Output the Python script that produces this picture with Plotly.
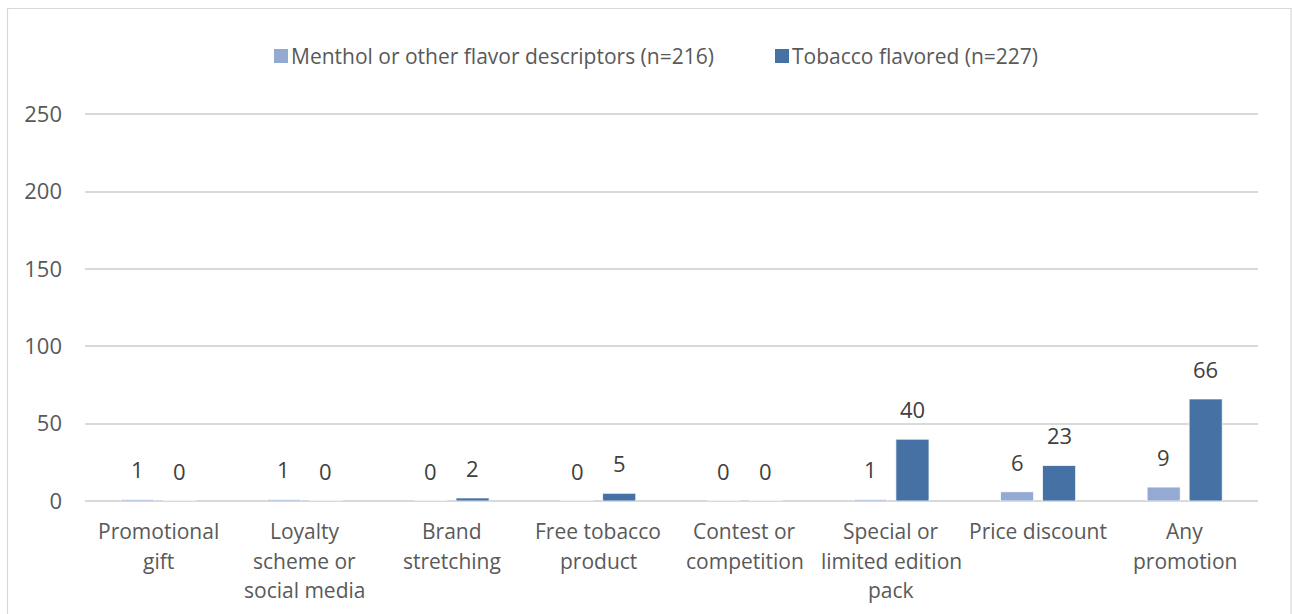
import plotly.graph_objects as go

categories = [
    "Promotional<br>gift",
    "Loyalty<br>scheme or<br>social media",
    "Brand<br>stretching",
    "Free tobacco<br>product",
    "Contest or<br>competition",
    "Special or<br>limited edition<br>pack",
    "Price discount",
    "Any<br>promotion",
]
menthol = [1, 1, 0, 0, 0, 1, 6, 9]
tobacco = [0, 0, 2, 5, 0, 40, 23, 66]
series_names = ["Menthol or other flavor descriptors (n=216)", "Tobacco flavored (n=227)"]
y_ticks = [0, 50, 100, 150, 200, 250]

LIGHT = "#94AAD3"
DARK = "#4571A5"
TEXT = "#595959"
LABEL = "#404040"
GRID = "#D9D9D9"
FONT = "Open Sans"

# plot-area geometry (pixels)
W, H = 1292, 614
L, R, T, B = 85, 34, 112, 113
PW, PH = W - L - R, H - T - B


def px_x(x):
    return (x - L) / PW


def px_y(y):
    return (H - B - y) / PH


cat_keys = list(range(len(categories)))

fig = go.Figure()
for name, vals, col in [(series_names[0], menthol, LIGHT), (series_names[1], tobacco, DARK)]:
    fig.add_trace(go.Bar(
        x=cat_keys, y=vals, name=name, marker=dict(color=col, line=dict(color="white", width=0.8)),
        showlegend=False,
    ))

annotations = []
# data labels above each bar
slot = PW / len(categories) * (1 - 0.427) / 2
for vals, off in [(menthol, -slot / 2), (tobacco, slot / 2)]:
    for i, v in enumerate(vals):
        annotations.append(dict(
            x=i, y=v, xref="x", yref="y", text=str(v), showarrow=False,
            xshift=off, yshift=30, yanchor="middle",
            font=dict(family=FONT, size=22, color=LABEL),
        ))

# category labels, one line at a time
for i, c in enumerate(categories):
    for j, line in enumerate(c.split("<br>")):
        annotations.append(dict(
            x=i, y=px_y(531 + 29.5 * j), xref="x", yref="paper", text=line, showarrow=False,
            yanchor="middle", font=dict(family=FONT, size=21, color=TEXT),
        ))

# legend
legend_items = [(LIGHT, 274, series_names[0]), (DARK, 775, series_names[1])]
shapes = []
for col, x0, name in legend_items:
    shapes.append(dict(type="rect", xref="paper", yref="paper",
                       x0=px_x(x0), x1=px_x(x0 + 14), y0=px_y(63), y1=px_y(49),
                       fillcolor=col, line=dict(width=0)))
    annotations.append(dict(
        x=px_x(x0 + 15), y=px_y(56), xref="paper", yref="paper", text=name, showarrow=False,
        xanchor="left", yanchor="middle",
        font=dict(family=FONT, size=21, color=TEXT),
    ))

# top gridline
shapes.append(dict(type="line", xref="paper", yref="y", layer="below",
                   x0=0, x1=1, y0=y_ticks[-1], y1=y_ticks[-1],
                   line=dict(color=GRID, width=1.5)))

# chart frame
shapes.append(dict(type="rect", xref="paper", yref="paper", layer="below",
                   x0=px_x(7.5), x1=px_x(1291), y0=px_y(640), y1=px_y(8.5),
                   line=dict(color=GRID, width=1.2), fillcolor="rgba(0,0,0,0)"))

fig.update_layout(
    width=W, height=H,
    margin=dict(l=L, r=R, t=T, b=B),
    paper_bgcolor="white", plot_bgcolor="white",
    barmode="group", bargap=0.427, bargroupgap=0.21,
    annotations=annotations, shapes=shapes,
    xaxis=dict(showticklabels=False, showgrid=False, zeroline=False, ticks="",
               range=[-0.5, len(categories) - 0.5]),
    yaxis=dict(range=[0, 251.5], tickvals=y_ticks, showgrid=True, gridcolor=GRID, gridwidth=1.5,
               zeroline=True, zerolinecolor=GRID, zerolinewidth=2, ticks="", ticklabelstandoff=22,
               tickfont=dict(family=FONT, size=22, color=TEXT)),
)

fig.write_html("out.html")
